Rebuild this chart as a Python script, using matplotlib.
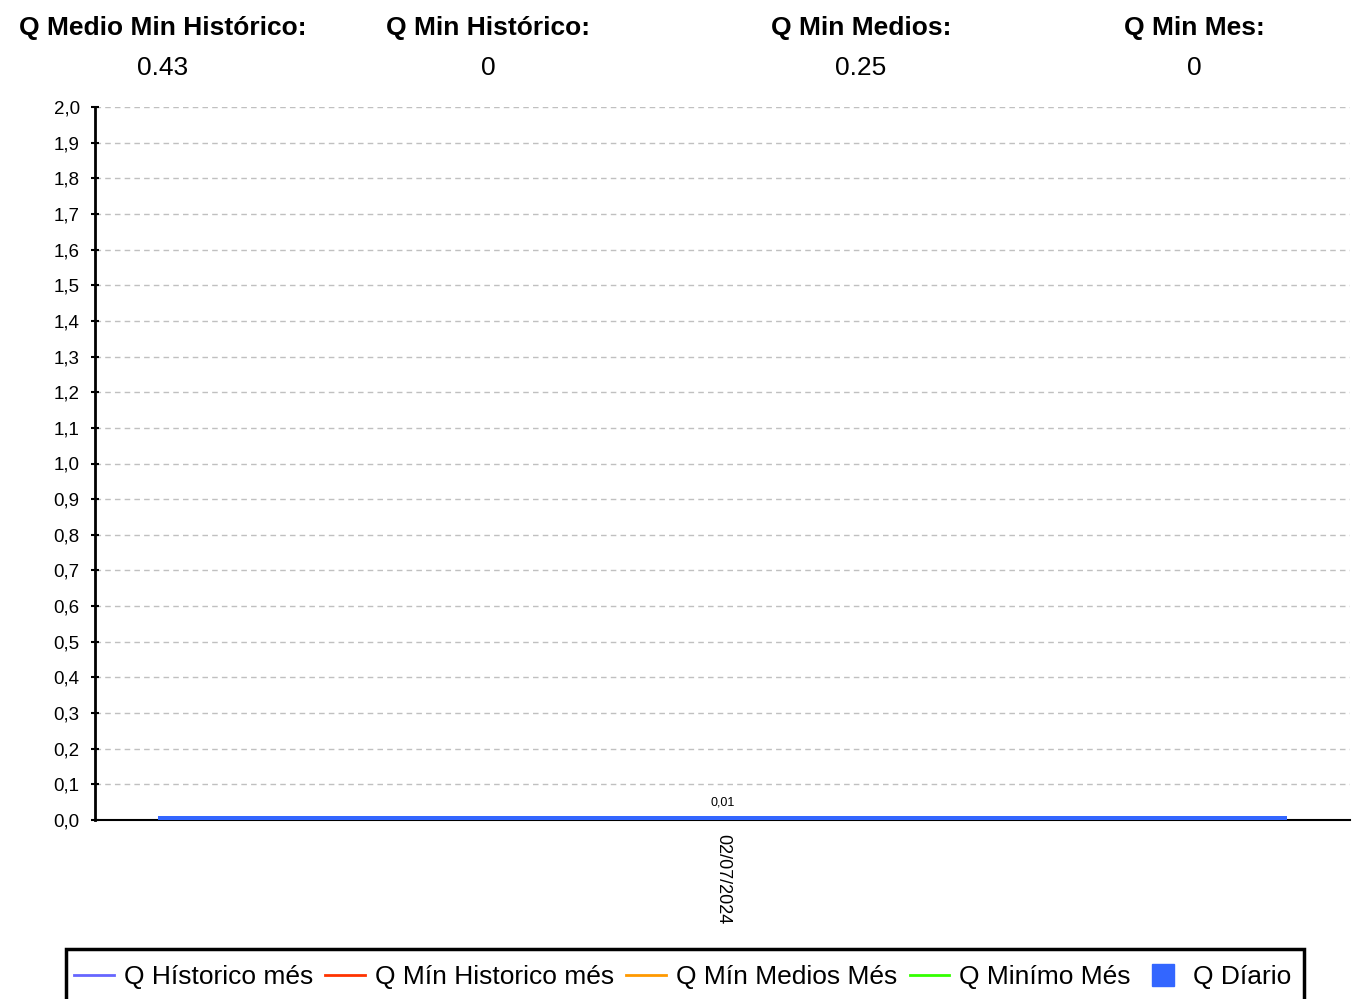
import matplotlib
matplotlib.use("Agg")
import matplotlib.pyplot as plt
from matplotlib.ticker import FuncFormatter, MultipleLocator
from matplotlib.lines import Line2D
from matplotlib.patches import Rectangle

plt.rcParams['font.family'] = ['Liberation Sans', 'DejaVu Sans']

# header summary
header_titles = ["Q Medio Min Histórico:", "Q Min Histórico:", "Q Min Medios:", "Q Min Mes:"]
header_values = ["0.43", "0", "0.25", "0"]

# series
dates = ["02/07/2024"]
q_diario = [0.01]
q_historico_mes = [0.43]
q_min_historico_mes = [0.0]
q_min_medios_mes = [0.25]
q_minimo_mes = [0.0]

line_names = ["Q Hístorico més", "Q Mín Historico més", "Q Mín Medios Més", "Q Minímo Més"]
line_colors = ["#6666ff", "#ff3300", "#ff9900", "#33ff00"]
bar_name = "Q Díario"
bar_color = "#3366ff"

W, H = 1354, 999
fig = plt.figure(figsize=(W / 100, H / 100), dpi=100)
ax = fig.add_axes([95 / W, 1 - 820 / H, 1255 / W, 713 / H])

x = list(range(len(dates)))
ax.bar(x, q_diario, width=0.9, color=bar_color, zorder=3)
for xi, v in zip(x, q_diario):
    ax.text(xi, v + 0.022, f"{v:.2f}".replace('.', ','), ha='center', va='bottom', fontsize=9)

for vals, col in zip([q_historico_mes, q_min_historico_mes, q_min_medios_mes, q_minimo_mes], line_colors):
    ax.plot(x, vals, color=col, linewidth=2, zorder=4)

ax.set_xlim(-0.5, len(dates) - 0.5)
ax.set_ylim(0, 2.0)
ax.yaxis.set_major_locator(MultipleLocator(0.1))
ax.yaxis.set_major_formatter(FuncFormatter(lambda v, p: f"{v:.1f}".replace('.', ',')))
ax.set_xticks(x)
ax.set_xticklabels(dates, rotation=270, fontsize=13)
ax.tick_params(axis='x', length=0, pad=10)
ax.tick_params(axis='y', labelsize=13.5, length=6, width=1.5, direction='inout', pad=8)
ax.grid(axis='y', linestyle=(0, (4, 3)), color='#c0c0c0', linewidth=1, zorder=0)
ax.set_axisbelow(True)
for s in ['top', 'right']:
    ax.spines[s].set_visible(False)
ax.spines['left'].set_linewidth(2)
ax.spines['bottom'].set_linewidth(1.5)

# header
header_x = [163, 488, 861, 1194]
for hx, t, v in zip(header_x, header_titles, header_values):
    fig.text(hx / W, 1 - 28 / H, t, ha='center', va='center', fontsize=19, fontweight='bold')
    fig.text(hx / W, 1 - 68 / H, v, ha='center', va='center', fontsize=19)

# legend box runs off the bottom edge
fig.patches.append(Rectangle((66 / W, -0.02), (1304 - 66) / W, 0.02 + 1 - 949 / H,
                             transform=fig.transFigure, fill=False, edgecolor='black',
                             linewidth=2.5))
handles = [Line2D([], [], color=c, linewidth=2) for c in line_colors]
handles.append(Line2D([], [], color=bar_color, marker='s', markersize=16, linestyle='none'))
fig.legend(handles, line_names + [bar_name], loc='center left',
           bbox_to_anchor=(74 / W, 1 - 977 / H), ncol=5, fontsize=19,
           frameon=False, handlelength=1.5, handletextpad=0.38, columnspacing=0.47,
           borderpad=0, borderaxespad=0)

fig.savefig("out.png", dpi=100)
